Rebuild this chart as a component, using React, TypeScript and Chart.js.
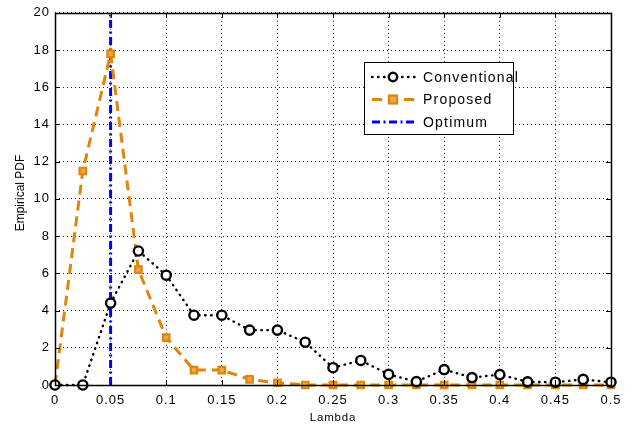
import React, { useEffect, useRef } from "react";
import { Chart, registerables } from "chart.js";

Chart.register(...registerables);

const lambdas = [0, 0.025, 0.05, 0.075, 0.1, 0.125, 0.15, 0.175, 0.2, 0.225, 0.25, 0.275, 0.3, 0.325, 0.35, 0.375, 0.4, 0.425, 0.45, 0.475, 0.5];
const conventional = [0, 0, 4.4, 7.2, 5.9, 3.75, 3.75, 2.95, 2.95, 2.3, 0.93, 1.32, 0.57, 0.18, 0.83, 0.4, 0.56, 0.17, 0.15, 0.3, 0.15];
const proposed = [0, 11.5, 17.8, 6.2, 2.55, 0.8, 0.8, 0.3, 0.12, 0, 0, 0, 0, 0, 0, 0, 0, 0, 0, 0, 0];
const optimumX = [0.05, 0.05];
const optimumY = [0, 20];
const seriesNames = ["Conventional", "Proposed", "Optimum"];
const xLabel = "Lambda";
const yLabel = "Empirical PDF";

const ORANGE = "rgb(222,133,10)";
const ORANGE_FILL = "rgb(238,165,70)";
const BLUE = "rgb(0,0,255)";
const FONT = "'Liberation Sans', Arial, sans-serif";
const BLACK_DASH = [0.5, 5.5];
const ORANGE_DASH = [10, 6];
const BLUE_DASH = [8, 3.5, 2, 3.5];

export default function App() {
  const ref = useRef<HTMLCanvasElement | null>(null);
  useEffect(() => {
    if (!ref.current) return;
    const framePlugin = {
      id: "frame",
      beforeDraw(chart: any) {
        const ctx = chart.ctx;
        ctx.save();
        ctx.fillStyle = "#fff";
        ctx.fillRect(0, 0, chart.width, chart.height);
        ctx.restore();
        try { ctx.letterSpacing = "1px"; } catch (e) {}
      },
      afterDatasetsDraw(chart: any) {
        const ctx = chart.ctx;
        const a = chart.chartArea;
        const xs = chart.scales.x;
        const ys = chart.scales.y;
        ctx.save();
        ctx.strokeStyle = "#000";
        ctx.lineWidth = 1;
        ctx.setLineDash([]);
        ctx.lineCap = "butt";
        ctx.beginPath();
        xs.ticks.forEach((t: any) => {
          const px = Math.round(xs.getPixelForValue(t.value)) + 0.5;
          ctx.moveTo(px, a.bottom); ctx.lineTo(px, a.bottom - 5);
          ctx.moveTo(px, a.top); ctx.lineTo(px, a.top + 5);
        });
        ys.ticks.forEach((t: any) => {
          const py = Math.round(ys.getPixelForValue(t.value)) + 0.5;
          ctx.moveTo(a.left, py); ctx.lineTo(a.left + 5, py);
          ctx.moveTo(a.right, py); ctx.lineTo(a.right - 5, py);
        });
        ctx.stroke();
        ctx.lineWidth = 1.5;
        ctx.strokeRect(Math.round(a.left) + 0.5, Math.round(a.top) + 0.5, Math.round(a.right - a.left), Math.round(a.bottom - a.top));

        // axis titles
        ctx.fillStyle = "#000";
        try { ctx.letterSpacing = "0.8px"; } catch (e) {}
        ctx.font = "11.5px " + FONT;
        ctx.textAlign = "center";
        ctx.textBaseline = "middle";
        ctx.fillText(xLabel, (a.left + a.right) / 2, 418);
        try { ctx.letterSpacing = "0px"; } catch (e) {}
        ctx.save();
        ctx.translate(21, 193);
        ctx.rotate(-Math.PI / 2);
        ctx.font = "12px " + FONT;
        ctx.fillText(yLabel, 0, 0);
        ctx.restore();

        // legend
        const bx = 364, by = 62, bw = 149, bh = 72;
        ctx.fillStyle = "#fff";
        ctx.fillRect(bx, by, bw, bh);
        ctx.strokeStyle = "#000";
        ctx.lineWidth = 1;
        ctx.strokeRect(bx + 0.5, by + 0.5, bw, bh);
        const rows = [77, 99.5, 122];
        const x0 = 372, x1 = 416, mx = 393;
        try { ctx.letterSpacing = "1.2px"; } catch (e) {}
        ctx.font = "14px " + FONT;
        ctx.textAlign = "left";
        ctx.textBaseline = "middle";
        // conventional
        ctx.strokeStyle = "#000";
        ctx.lineWidth = 2.4;
        ctx.lineCap = "round";
        ctx.setLineDash(BLACK_DASH);
        ctx.beginPath(); ctx.moveTo(x0, rows[0]); ctx.lineTo(x1, rows[0]); ctx.stroke();
        ctx.setLineDash([]);
        ctx.lineCap = "butt";
        ctx.beginPath(); ctx.arc(mx, rows[0], 4.2, 0, Math.PI * 2);
        ctx.fillStyle = "#fff"; ctx.fill(); ctx.stroke();
        // proposed
        ctx.strokeStyle = ORANGE;
        ctx.lineWidth = 3;
        ctx.setLineDash(ORANGE_DASH);
        ctx.beginPath(); ctx.moveTo(x0, rows[1]); ctx.lineTo(x1, rows[1]); ctx.stroke();
        ctx.setLineDash([]);
        ctx.fillStyle = ORANGE_FILL;
        ctx.lineWidth = 2.2;
        ctx.fillRect(mx - 4, rows[1] - 4, 8, 8);
        ctx.strokeRect(mx - 4, rows[1] - 4, 8, 8);
        // optimum
        ctx.strokeStyle = BLUE;
        ctx.lineWidth = 3;
        ctx.setLineDash(BLUE_DASH);
        ctx.beginPath(); ctx.moveTo(x0, rows[2]); ctx.lineTo(x1, rows[2]); ctx.stroke();
        ctx.setLineDash([]);
        ctx.fillStyle = "#000";
        seriesNames.forEach((n, i) => ctx.fillText(n, 423, rows[i] + 1));
        ctx.restore();
      },
    };

    const chart = new Chart(ref.current, {
      type: "line",
      data: {
        datasets: [
          {
            label: seriesNames[0],
            data: lambdas.map((x, i) => ({ x, y: conventional[i] })),
            borderColor: "#000",
            borderWidth: 2.4,
            borderDash: BLACK_DASH,
            borderCapStyle: "round",
            pointStyle: "circle",
            pointRadius: 4.6,
            pointBorderWidth: 2.4,
            pointBackgroundColor: "#fff",
            pointBorderColor: "#000",
            tension: 0,
            clip: false as any,
          },
          {
            label: seriesNames[1],
            data: lambdas.map((x, i) => ({ x, y: proposed[i] })),
            borderColor: ORANGE,
            borderWidth: 3,
            borderDash: ORANGE_DASH,
            pointStyle: "rect",
            pointRadius: 4.6,
            pointBorderWidth: 2.2,
            pointBackgroundColor: ORANGE_FILL,
            pointBorderColor: ORANGE,
            tension: 0,
            clip: false as any,
          },
          {
            label: seriesNames[2],
            data: optimumX.map((x, i) => ({ x, y: optimumY[i] })),
            borderColor: BLUE,
            borderWidth: 3,
            borderDash: BLUE_DASH,
            pointRadius: 0,
            tension: 0,
          },
        ],
      },
      options: {
        animation: false,
        responsive: false,
        maintainAspectRatio: false,
        layout: { padding: { top: 7, right: 30, left: 0, bottom: 0 } },
        plugins: { legend: { display: false }, tooltip: { enabled: false } },
        scales: {
          x: {
            type: "linear",
            min: 0,
            max: 0.5,
            afterFit: (s: any) => { s.height = 47; },
            afterBuildTicks: (s: any) => {
              s.ticks = Array.from({ length: 11 }, (_, i) => ({ value: Math.round(i * 5) / 100 }));
            },
            ticks: {
              color: "#000",
              font: { family: FONT, size: 13 },
              padding: 8,
              maxRotation: 0,
              autoSkip: false,
              callback: (v: any) => String(Number(Number(v).toFixed(2))),
            },
            grid: { color: "#222", lineWidth: 1, drawTicks: false },
            border: { display: false, dash: [1, 3] },
          },
          y: {
            type: "linear",
            min: 0,
            max: 20,
            afterFit: (s: any) => { s.width = 55; },
            ticks: {
              stepSize: 2,
              color: "#000",
              font: { family: FONT, size: 13 },
              padding: 5,
            },
            grid: { color: "#222", lineWidth: 1, drawTicks: false },
            border: { display: false, dash: [1, 3] },
          },
        },
      },
      plugins: [framePlugin],
    } as any);
    return () => chart.destroy();
  }, []);
  return (
    <div style={{ position: "fixed", left: 0, top: 0, width: 641, height: 432, background: "#fff" }}>
      <canvas ref={ref} width={641} height={432} style={{ width: 641, height: 432 }} />
    </div>
  );
}
